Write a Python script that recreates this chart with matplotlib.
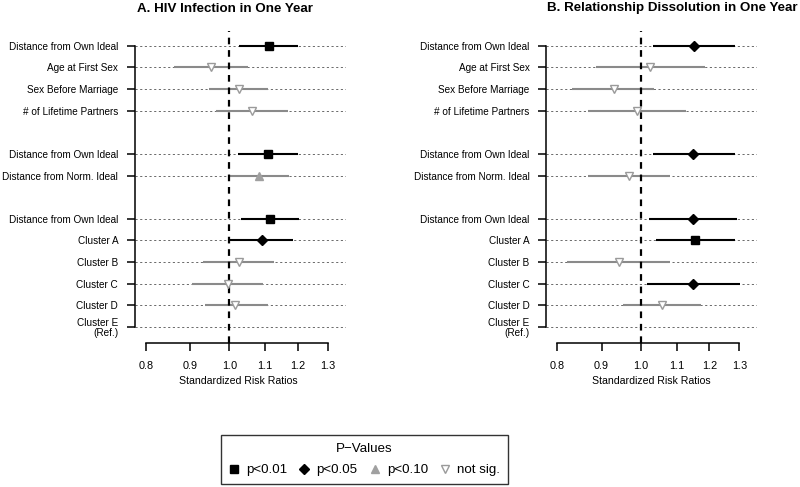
import matplotlib
matplotlib.use('Agg')
import matplotlib.pyplot as plt
from matplotlib.lines import Line2D
import numpy as np

plt.rcParams['font.family'] = ['Liberation Sans', 'DejaVu Sans']

labels = ["Distance from Own Ideal", "Age at First Sex", "Sex Before Marriage",
          "# of Lifetime Partners", "Distance from Own Ideal", "Distance from Norm. Ideal",
          "Distance from Own Ideal", "Cluster A", "Cluster B", "Cluster C", "Cluster D",
          "Cluster E\n(Ref.)"]
rows = [0, 1, 2, 3, 5, 6, 8, 9, 10, 11, 12, 13]

hiv_est = [1.112, 0.952, 1.027, 1.063, 1.108, 1.082, 1.114, 1.090, 1.027, 0.995, 1.015, np.nan]
hiv_lo = [1.027, 0.863, 0.948, 0.965, 1.024, 1.000, 1.031, 1.002, 0.933, 0.904, 0.937, np.nan]
hiv_hi = [1.200, 1.052, 1.109, 1.170, 1.200, 1.173, 1.204, 1.186, 1.126, 1.095, 1.109, np.nan]
hiv_sig = ['p01', 'ns', 'ns', 'ns', 'p01', 'p10', 'p01', 'p05', 'ns', 'ns', 'ns', None]

dis_est = [1.151, 1.023, 0.930, 0.990, 1.149, 0.968, 1.149, 1.156, 0.942, 1.149, 1.058, np.nan]
dis_lo = [1.032, 0.888, 0.832, 0.868, 1.032, 0.868, 1.021, 1.042, 0.821, 1.015, 0.953, np.nan]
dis_hi = [1.286, 1.185, 1.036, 1.126, 1.284, 1.080, 1.292, 1.284, 1.080, 1.303, 1.172, np.nan]
dis_sig = ['p05', 'ns', 'ns', 'ns', 'p05', 'ns', 'p05', 'p01', 'ns', 'p05', 'ns', None]

xticks = [0.8, 0.9, 1.0, 1.1, 1.2, 1.3]
xticklabels = ["0.8", "0.9", "1.0", "1.1", "1.2", "1.3"]

titles = ["A. HIV Infection in One Year", "B. Relationship Dissolution in One Year"]

legend_keys = ['p01', 'p05', 'p10', 'ns']
legend_labels = ["p<0.01", "p<0.05", "p<0.10", "not sig."]

styles = {
    'p01': dict(marker='s', ms=5.4, mfc='black', mec='black', line='black'),
    'p05': dict(marker='D', ms=5.0, mfc='black', mec='black', line='black'),
    'p10': dict(marker='^', ms=6.0, mfc='#a0a0a0', mec='#a0a0a0', line='#8a8a8a'),
    'ns': dict(marker='v', ms=5.8, mfc='white', mec='#9a9a9a', line='#8a8a8a'),
}

W, H = 800, 487
fig = plt.figure(figsize=(W / 100, H / 100), dpi=100)

XL = (0.777, 1.363)
PX_PER_LN = 375.0
ax_w = np.log(XL[1] / XL[0]) * PX_PER_LN
top_px, bot_px = 31.0, 342.7
YL = (13.725, -0.68)

panel_left = [134.8, 546.4]
title_x = [225, 672]
xlabel_x = [238, 651]

datasets = [(hiv_est, hiv_lo, hiv_hi, hiv_sig), (dis_est, dis_lo, dis_hi, dis_sig)]

for k in range(2):
    est, lo, hi, sig = datasets[k]
    ax = fig.add_axes([panel_left[k] / W, (H - bot_px) / H, ax_w / W, (bot_px - top_px) / H])
    ax.set_xscale('log')
    ax.set_xlim(*XL)
    ax.set_ylim(*YL)
    ax.patch.set_alpha(0)
    for s in ['top', 'right']:
        ax.spines[s].set_visible(False)
    ax.spines['left'].set_bounds(rows[0], rows[-1])
    ax.spines['bottom'].set_bounds(xticks[0], xticks[-1])
    ax.spines['left'].set_linewidth(1.1)
    ax.spines['bottom'].set_linewidth(1.1)
    ax.set_yticks(rows)
    ax.set_yticklabels(labels, fontsize=7.2, linespacing=0.95)
    ax.set_xticks(xticks)
    ax.set_xticklabels(xticklabels, fontsize=7.8)
    ax.xaxis.set_minor_locator(matplotlib.ticker.NullLocator())
    ax.tick_params(axis='y', length=6, width=1.1, pad=6, direction='out')
    ax.tick_params(axis='x', length=5.5, width=1.1, pad=8, direction='out')

    # dotted row guides
    for r in rows:
        ax.plot([XL[0], XL[1]], [r, r], color='#6a6a6a', lw=0.7,
                linestyle=(0, (2.2, 2.6)), zorder=1)

    for r, e, l, h, s in zip(rows, est, lo, hi, sig):
        if s is None:
            continue
        st = styles[s]
        ax.plot([l, h], [r, r], color=st['line'], lw=1.5, solid_capstyle='butt', zorder=2)
        ax.plot([e], [r], marker=st['marker'], ms=st['ms'], mfc=st['mfc'], mec=st['mec'],
                mew=1.0, linestyle='none', zorder=4)

    ax.axvline(1.0, color='black', lw=1.6, linestyle=(0, (3.0, 2.6)), zorder=3)

    fig.text(title_x[k] / W, 1 - 8.5 / H, titles[k], ha='center', va='center',
             fontsize=9.6, fontweight='bold')
    fig.text(xlabel_x[k] / W, 1 - 381.5 / H, "Standardized Risk Ratios", ha='center',
             va='center', fontsize=7.6)

handles = []
for key in legend_keys:
    st = styles[key]
    handles.append(Line2D([], [], marker=st['marker'], ms=st['ms'] * 0.95, mfc=st['mfc'],
                          mec=st['mec'], mew=1.0, linestyle='none'))

leg = fig.legend(handles, legend_labels, title="P\u2212Values", ncol=4,
                 loc='center', bbox_to_anchor=(364.5 / W, 1 - 459.5 / H),
                 fontsize=9.6, title_fontsize=9.6, frameon=True, fancybox=False,
                 handlelength=0.8, handletextpad=0.5, columnspacing=0.9,
                 borderpad=0.58, labelspacing=0.7, borderaxespad=0)
leg.get_frame().set_edgecolor('black')
leg.get_frame().set_linewidth(1.0)

fig.savefig('out.png', dpi=100)
